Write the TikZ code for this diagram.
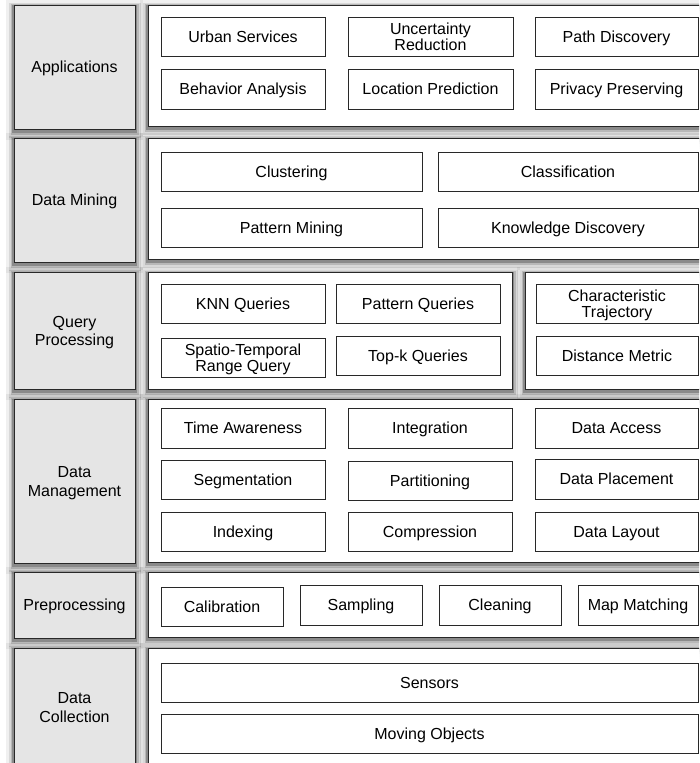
\documentclass[tikz,border=0pt]{standalone}
\usepackage{fontspec}
\setmainfont{Liberation Sans}
\definecolor{lblfill}{RGB}{229,229,229}
\definecolor{edge}{RGB}{40,40,40}
\newcommand\mkbox[7]{%
  \node[#7, minimum width={(#4-#2)*1pt}, minimum height={(#5-#3)*1pt}]
    (#1) at ({(#2+#4)/2},{(#3+#5)/2}) {#6};}
\begin{document}
\begin{tikzpicture}[x=1pt,y=-1pt,
  txt/.style={rectangle, inner sep=0pt, outer sep=0pt, align=center,
    font=\fontsize{16}{16.6}\selectfont, text height=11.9pt, text depth=0pt},
  base/.style={txt, draw=edge},
  shad/.style={
    preaction={draw=black, draw opacity=0.06, line width=16pt, transform canvas={yshift=-3pt}},
    preaction={draw=black, draw opacity=0.10, line width=11pt, transform canvas={yshift=-3pt}},
    preaction={draw=black, draw opacity=0.15, line width=7pt, transform canvas={yshift=-2.5pt}},
    preaction={draw=black, draw opacity=0.25, line width=3.5pt, transform canvas={yshift=-2pt}}},
  lbl/.style={base, shad, line width=1pt, fill=lblfill},
  two/.style={font=\fontsize{16}{18.8}\selectfont, text height=30.6pt},
  lbltwo/.style={lbl, two},
  pnl/.style={base, shad, line width=1pt, fill=white},
  ibox/.style={base, line width=0.8pt, fill=white},
  iboxtwo/.style={ibox, text height=28.4pt}]
\useasboundingbox (0,0) rectangle (699,763);
\clip (0,0) rectangle (699,763);
% left labels
\mkbox{lApp}{14}{5}{135}{129}{Applications}{lbl}
\mkbox{lDM}{14}{138}{135}{262}{Data Mining}{lbl}
\mkbox{lQP}{14}{272}{135}{389}{Query\\Processing}{lbltwo}
\mkbox{lMan}{14}{399}{135}{563}{Data\\Management}{lbltwo}
\mkbox{lPP}{14}{572}{135}{638}{Preprocessing}{lbl}
\mkbox{lDC}{14}{648}{135}{830}{}{lbl}
\node[txt, two] (lDCt) at (74.5,706.7) {Data\\Collection};
% panels
\mkbox{pApp}{148}{5}{712}{126}{}{pnl}
\mkbox{pDM}{148}{138}{712}{259}{}{pnl}
\mkbox{pQP1}{148}{272}{512}{389}{}{pnl}
\mkbox{pQP2}{525}{272}{712}{389}{}{pnl}
\mkbox{pMan}{148}{399}{712}{562}{}{pnl}
\mkbox{pPP}{148}{572}{712}{637}{}{pnl}
\mkbox{pDC}{148}{648}{712}{830}{}{pnl}
% Applications
\mkbox{a1}{161}{17}{325}{56}{Urban Services}{ibox}
\mkbox{a2}{348}{17}{513}{56}{Uncertainty\\Reduction}{iboxtwo}
\mkbox{a3}{535}{17}{698}{56}{Path Discovery}{ibox}
\mkbox{a4}{161}{69}{325}{109}{Behavior Analysis}{ibox}
\mkbox{a5}{348}{69}{513}{109}{Location Prediction}{ibox}
\mkbox{a6}{535}{69}{698}{109}{Privacy Preserving}{ibox}
% Data Mining
\mkbox{m1}{161}{152}{422}{191}{Clustering}{ibox}
\mkbox{m2}{438}{152}{698}{191}{Classification}{ibox}
\mkbox{m3}{161}{208}{422}{247}{Pattern Mining}{ibox}
\mkbox{m4}{438}{208}{698}{247}{Knowledge Discovery}{ibox}
% Query Processing
\mkbox{q1}{161}{284}{325}{323}{KNN Queries}{ibox}
\mkbox{q2}{336}{284}{500}{323}{Pattern Queries}{ibox}
\mkbox{q3}{161}{338}{325}{377}{Spatio-Temporal\\Range Query}{iboxtwo}
\mkbox{q4}{336}{336}{500}{375}{Top-k Queries}{ibox}
\mkbox{q5}{536}{284}{698}{323}{Characteristic\\Trajectory}{iboxtwo}
\mkbox{q6}{536}{336}{698}{375}{Distance Metric}{ibox}
% Data Management
\mkbox{d1}{161}{408}{325}{448}{Time Awareness}{ibox}
\mkbox{d2}{348}{408}{512}{448}{Integration}{ibox}
\mkbox{d3}{535}{408}{698}{448}{Data Access}{ibox}
\mkbox{d4}{161}{460}{325}{499}{Segmentation}{ibox}
\mkbox{d5}{348}{461}{512}{500}{Partitioning}{ibox}
\mkbox{d6}{535}{459}{698}{499}{Data Placement}{ibox}
\mkbox{d7}{161}{512}{325}{551}{Indexing}{ibox}
\mkbox{d8}{348}{512}{512}{551}{Compression}{ibox}
\mkbox{d9}{535}{512}{698}{551}{Data Layout}{ibox}
% Preprocessing
\mkbox{p1}{161}{587}{283}{626}{Calibration}{ibox}
\mkbox{p2}{300}{585}{422}{625}{Sampling}{ibox}
\mkbox{p3}{439}{585}{561}{625}{Cleaning}{ibox}
\mkbox{p4}{578}{585}{698}{625}{Map Matching}{ibox}
% Data Collection
\mkbox{c1}{161}{663}{698}{702}{Sensors}{ibox}
\mkbox{c2}{161}{714}{698}{753}{Moving Objects}{ibox}
\end{tikzpicture}
\end{document}
